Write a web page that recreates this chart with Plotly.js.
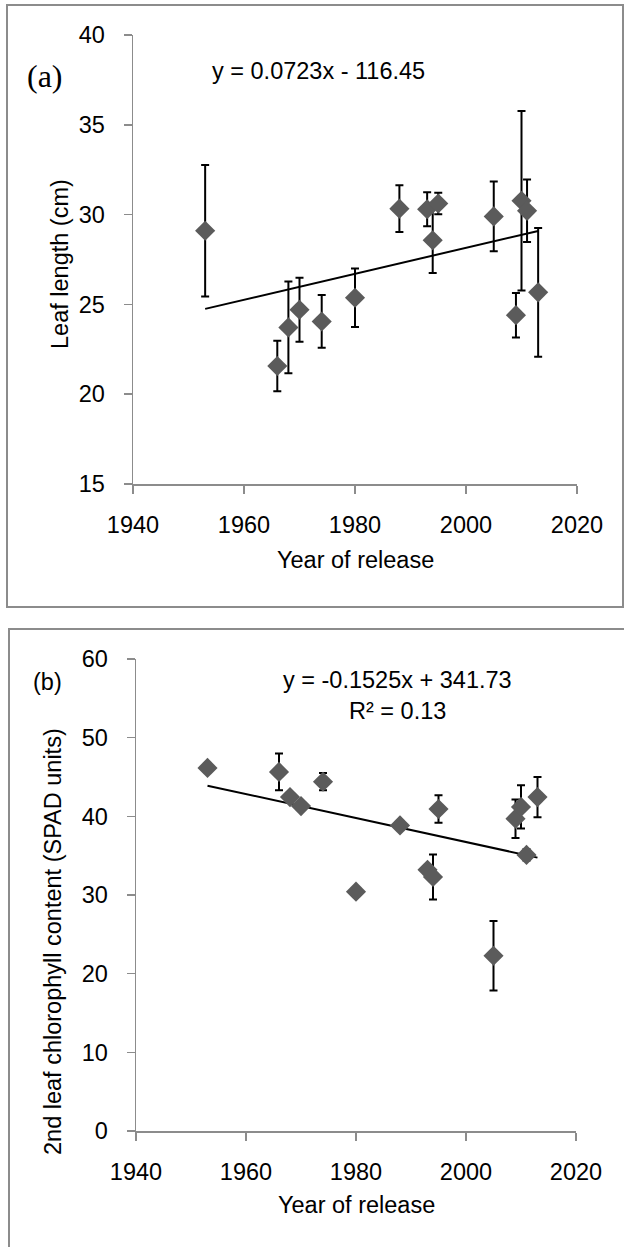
<!DOCTYPE html>
<html>
<head>
<meta charset="utf-8">
<script src="https://cdn.plot.ly/plotly-3.0.1.min.js"></script>
<style>
  html, body { margin: 0; padding: 0; background: #fff; }
  #chart { width: 624px; height: 1247px; }
</style>
</head>
<body>
<div id="chart"></div>
<script>
// ---------- data ----------
const years = [1953, 1966, 1968, 1970, 1974, 1980, 1988, 1993, 1994, 1995, 2005, 2009, 2010, 2011, 2013];

// (a) leaf length (cm)
const leafLength    = [29.10, 21.57, 23.72, 24.70, 24.05, 25.37, 30.33, 30.30, 28.57, 30.62, 29.90, 24.40, 30.77, 30.21, 25.67];
const leafLengthErr = [3.66, 1.41, 2.55, 1.78, 1.47, 1.63, 1.30, 0.95, 1.82, 0.60, 1.94, 1.24, 5.00, 1.74, 3.58];

// (b) 2nd leaf chlorophyll content (SPAD units)
const spad    = [46.15, 45.65, 42.45, 41.30, 44.40, 30.42, 38.85, 33.20, 32.30, 40.93, 22.28, 39.70, 41.20, 35.10, 42.45];
const spadErr = [0.30, 2.33, 0.50, 0.60, 1.10, 0.40, 0.40, 0.50, 2.86, 1.76, 4.41, 2.44, 2.75, 0.70, 2.56];

// linear trend lines (end points)
const trendX  = [1953, 2013];
const trendA  = [24.75, 29.09];
const trendB  = [43.90, 34.75];

const xTicks  = [1940, 1960, 1980, 2000, 2020];
const yTicksA = [15, 20, 25, 30, 35, 40];
const yTicksB = [0, 10, 20, 30, 40, 50, 60];

const eqA  = 'y = 0.0723x - 116.45';
const eqB1 = 'y = -0.1525x + 341.73';
const eqB2 = 'R² = 0.13';

// ---------- layout helpers ----------
const W = 624, H = 1247;
const px = v => v / W;
const py = v => 1 - v / H;

const FONT = '"Liberation Sans", Arial, sans-serif';
const GRAY = '#8c8c8c';
const MARK = '#5b5b5b';

function pointTrace(y, err, xa, ya) {
  return {
    x: years, y: y, xaxis: xa, yaxis: ya,
    type: 'scatter', mode: 'markers',
    marker: { symbol: 'diamond', size: 15.5, color: MARK, line: { width: 0 } },
    error_y: { type: 'data', array: err, visible: true, color: '#000', thickness: 2, width: 4 },
    cliponaxis: false, showlegend: false, hoverinfo: 'skip'
  };
}
function trendTrace(y, xa, ya) {
  return {
    x: trendX, y: y, xaxis: xa, yaxis: ya,
    type: 'scatter', mode: 'lines',
    line: { color: '#000', width: 2 },
    showlegend: false, hoverinfo: 'skip'
  };
}

const data = [
  trendTrace(trendA, 'x', 'y'),
  pointTrace(leafLength, leafLengthErr, 'x', 'y'),
  trendTrace(trendB, 'x2', 'y2'),
  pointTrace(spad, spadErr, 'x2', 'y2')
];

function xAxis(domain, anchor) {
  return {
    domain: domain, anchor: anchor, range: [1940, 2020], tickvals: xTicks,
    showgrid: false, zeroline: false, showline: true, linecolor: GRAY, linewidth: 1.5,
    ticks: 'outside', ticklen: 8, tickwidth: 1.5, tickcolor: GRAY,
    ticklabelstandoff: 11,
    tickfont: { family: FONT, size: 23.5, color: '#000' }, fixedrange: true
  };
}
function yAxis(domain, anchor, range, vals) {
  return {
    domain: domain, anchor: anchor, range: range, tickvals: vals,
    showgrid: false, zeroline: false, showline: true, linecolor: GRAY, linewidth: 1.5,
    ticks: 'outside', ticklen: 8, tickwidth: 1.5, tickcolor: GRAY,
    ticklabelstandoff: 14,
    tickfont: { family: FONT, size: 23.5, color: '#000' }, fixedrange: true
  };
}

function ann(text, x, y, opts) {
  return Object.assign({
    text: text, xref: 'paper', yref: 'paper', x: px(x), y: py(y),
    xanchor: 'center', yanchor: 'middle', showarrow: false,
    font: { family: FONT, size: 23.5, color: '#000' }
  }, opts || {});
}

const layout = {
  width: W, height: H,
  margin: { l: 0, r: 0, t: 0, b: 0 },
  paper_bgcolor: '#fff', plot_bgcolor: 'rgba(0,0,0,0)',
  showlegend: false,
  xaxis: xAxis([px(133), px(577)], 'y'),
  yaxis: yAxis([py(484), py(35)], 'x', [15, 40], yTicksA),
  xaxis2: xAxis([px(136), px(576)], 'y2'),
  yaxis2: yAxis([py(1131), py(659)], 'x2', [0, 60], yTicksB),
  shapes: [
    { type: 'rect', xref: 'paper', yref: 'paper', x0: px(7), x1: px(623), y0: py(607), y1: py(5),
      line: { color: GRAY, width: 2 }, fillcolor: 'rgba(0,0,0,0)', layer: 'below' },
    { type: 'rect', xref: 'paper', yref: 'paper', x0: px(9), x1: px(626), y0: py(1252), y1: py(629),
      line: { color: GRAY, width: 2 }, fillcolor: 'rgba(0,0,0,0)', layer: 'below' }
  ],
  annotations: [
    ann('(a)', 45, 76, { font: { family: '"Liberation Serif", "Times New Roman", serif', size: 32, color: '#000' } }),
    ann(eqA, 318, 71),
    ann('Year of release', 355, 560),
    ann('Leaf length (cm)', 60, 264, { textangle: -90 }),
    ann('(b)', 47, 682),
    ann(eqB1, 397, 680),
    ann(eqB2, 397, 711),
    ann('Year of release', 356, 1205),
    ann('2nd leaf chlorophyll content (SPAD units)', 53, 942, { textangle: -90 })
  ]
};

Plotly.newPlot('chart', data, layout, { staticPlot: true, displayModeBar: false });
</script>
</body>
</html>
